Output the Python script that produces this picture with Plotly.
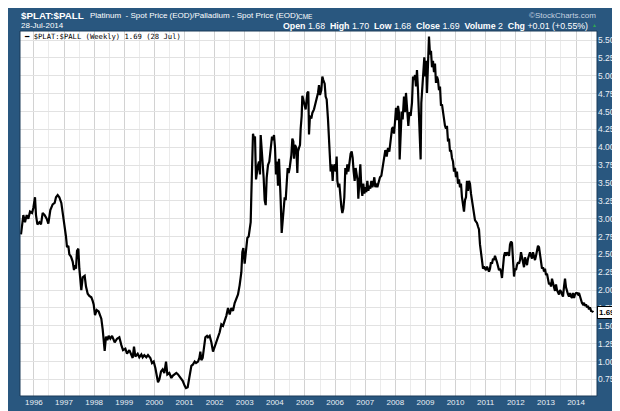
import plotly.graph_objects as go

# ---- data (decimal year, Pt/Pd ratio) ----
years_95_98 = [1995.572, 1995.650, 1995.705, 1995.761, 1995.816, 1995.871, 1995.938, 1995.982,
               1996.037, 1996.070, 1996.115, 1996.181, 1996.236, 1996.292, 1996.358, 1996.425,
               1996.480, 1996.546, 1996.624, 1996.690, 1996.734, 1996.790, 1996.845, 1996.911,
               1996.967, 1997.022, 1997.066, 1997.100, 1997.144, 1997.177, 1997.232, 1997.288,
               1997.332, 1997.365, 1997.398, 1997.432, 1997.476, 1997.509, 1997.542, 1997.575,
               1997.620, 1997.686, 1997.730, 1997.786, 1997.841, 1997.907, 1997.952, 1997.985,
               1998.029, 1998.085, 1998.151, 1998.195, 1998.239, 1998.284, 1998.317, 1998.350,
               1998.394, 1998.439, 1998.483, 1998.538]
ratio_95_98 = [2.78, 3.05, 2.95, 3.05, 3.00, 3.10, 3.08, 3.15,
               3.30, 3.05, 2.92, 2.95, 2.92, 3.08, 3.05, 3.00,
               2.93, 3.12, 3.20, 3.22, 3.30, 3.33, 3.30, 3.22,
               3.05, 2.90, 2.75, 2.60, 2.62, 2.50, 2.47, 2.40,
               2.28, 2.35, 2.30, 2.55, 2.58, 2.30, 2.10, 2.00,
               2.18, 2.20, 2.05, 1.95, 1.92, 1.90, 1.85, 1.80,
               1.65, 1.72, 1.70, 1.65, 1.60, 1.45, 1.32, 1.15,
               1.35, 1.30, 1.36, 1.32]

years_98_01 = [1998.594, 1998.683, 1998.760, 1998.837, 1998.904, 1998.959, 1999.037, 1999.092,
               1999.169, 1999.225, 1999.280, 1999.324, 1999.369, 1999.446, 1999.501, 1999.568,
               1999.612, 1999.667, 1999.734, 1999.789, 1999.867, 1999.922, 1999.977, 2000.033,
               2000.088, 2000.121, 2000.166, 2000.221, 2000.276, 2000.332, 2000.387, 2000.431,
               2000.497, 2000.564, 2000.608, 2000.675, 2000.730, 2000.785, 2000.863, 2000.940,
               2001.007, 2001.051, 2001.106, 2001.139, 2001.184, 2001.228, 2001.283, 2001.339,
               2001.383, 2001.449, 2001.494, 2001.527, 2001.560, 2001.604, 2001.637, 2001.693,
               2001.748]
ratio_98_01 = [1.36, 1.27, 1.32, 1.34, 1.23, 1.16, 1.18, 1.11,
               1.16, 1.09, 1.05, 1.21, 1.07, 1.11, 1.06, 1.10,
               1.06, 1.09, 1.06, 1.09, 1.05, 0.98, 1.00, 0.91,
               0.80, 0.71, 0.75, 0.86, 0.89, 0.84, 1.00, 0.82,
               0.84, 0.77, 0.80, 0.82, 0.84, 0.82, 0.77, 0.73,
               0.66, 0.63, 0.64, 0.73, 0.80, 0.94, 0.96, 1.00,
               0.98, 1.00, 1.05, 1.14, 1.02, 1.05, 1.16, 1.34,
               1.36]

years_01_04 = [2001.781, 2001.836, 2001.892, 2001.947, 2002.002, 2002.058, 2002.113, 2002.168,
               2002.224, 2002.279, 2002.334, 2002.390, 2002.445, 2002.500, 2002.556, 2002.611,
               2002.666, 2002.722, 2002.777, 2002.832, 2002.888, 2002.921, 2002.954, 2002.998,
               2003.043, 2003.087, 2003.131, 2003.164, 2003.198, 2003.220, 2003.253, 2003.275,
               2003.308, 2003.341, 2003.375, 2003.408, 2003.441, 2003.474, 2003.507, 2003.530,
               2003.563, 2003.596, 2003.629, 2003.662, 2003.696, 2003.729, 2003.773, 2003.817,
               2003.862, 2003.906, 2003.939, 2003.972, 2004.005, 2004.039, 2004.072, 2004.105,
               2004.138, 2004.171, 2004.194, 2004.227, 2004.260, 2004.293, 2004.326, 2004.360,
               2004.393, 2004.426, 2004.459, 2004.492, 2004.548, 2004.581, 2004.614, 2004.636,
               2004.669, 2004.714, 2004.747, 2004.769, 2004.802, 2004.835, 2004.858, 2004.891,
               2004.913, 2004.946]
ratio_01_04 = [1.34, 1.36, 1.27, 1.14, 1.21, 1.27, 1.34, 1.41,
               1.52, 1.50, 1.57, 1.64, 1.75, 1.66, 1.75, 1.71,
               1.82, 1.87, 1.94, 2.07, 2.25, 2.53, 2.59, 2.37,
               2.57, 2.73, 2.75, 2.89, 2.95, 3.34, 3.80, 4.19,
               4.12, 4.15, 3.55, 3.71, 3.75, 3.80, 3.62, 4.17,
               3.99, 3.80, 3.57, 3.26, 3.19, 3.57, 3.75, 3.80,
               3.94, 4.15, 4.10, 4.17, 4.00, 3.62, 3.80, 3.46,
               3.84, 3.57, 3.26, 2.80, 3.01, 3.12, 3.30, 3.26,
               3.60, 3.71, 3.64, 3.71, 3.89, 4.12, 4.08, 3.84,
               4.03, 3.99, 3.64, 3.94, 3.99, 4.03, 4.26, 4.44,
               4.72, 4.67]

years_05_08 = [2005.023, 2005.079, 2005.112, 2005.134, 2005.167, 2005.211, 2005.245, 2005.300,
               2005.355, 2005.389, 2005.433, 2005.466, 2005.499, 2005.543, 2005.577, 2005.610,
               2005.654, 2005.687, 2005.721, 2005.765, 2005.798, 2005.831, 2005.853, 2005.887,
               2005.920, 2005.942, 2005.986, 2006.019, 2006.052, 2006.075, 2006.108, 2006.141,
               2006.174, 2006.207, 2006.241, 2006.274, 2006.307, 2006.340, 2006.374, 2006.407,
               2006.440, 2006.484, 2006.517, 2006.551, 2006.584, 2006.617, 2006.650, 2006.683,
               2006.717, 2006.750, 2006.772, 2006.805, 2006.838, 2006.871, 2006.905, 2006.938,
               2006.971, 2007.004, 2007.037, 2007.071, 2007.104, 2007.137, 2007.170, 2007.204,
               2007.237, 2007.270, 2007.303, 2007.336, 2007.370, 2007.403, 2007.447, 2007.491,
               2007.536, 2007.580, 2007.624, 2007.668, 2007.713, 2007.757, 2007.801, 2007.845,
               2007.890, 2007.923, 2007.956, 2007.989, 2008.023, 2008.056, 2008.089, 2008.122,
               2008.144]
ratio_05_08 = [4.53, 4.76, 4.78, 4.18, 4.44, 4.40, 4.48, 4.53,
               4.62, 4.71, 4.76, 4.87, 4.73, 4.80, 4.99, 4.94,
               4.89, 4.71, 4.67, 4.39, 4.12, 3.85, 3.66, 3.76,
               3.53, 3.71, 3.76, 3.66, 3.87, 3.53, 3.44, 3.49,
               3.30, 3.17, 3.08, 3.14, 3.30, 3.71, 3.62, 3.76,
               3.66, 3.85, 3.91, 3.94, 3.85, 3.66, 3.53, 3.71,
               3.58, 3.53, 3.28, 3.58, 3.76, 3.44, 3.32, 3.49,
               3.35, 3.44, 3.37, 3.53, 3.39, 3.46, 3.42, 3.53,
               3.44, 3.49, 3.58, 3.44, 3.49, 3.44, 3.53, 3.58,
               3.60, 3.71, 3.85, 3.96, 3.87, 3.99, 3.94, 4.10,
               4.26, 4.28, 4.19, 4.35, 4.55, 4.38, 4.58, 4.48,
               3.83]

years_08_11 = [2008.210, 2008.244, 2008.288, 2008.321, 2008.354, 2008.387, 2008.432, 2008.465,
               2008.509, 2008.553, 2008.587, 2008.620, 2008.653, 2008.686, 2008.719, 2008.753,
               2008.786, 2008.819, 2008.841, 2008.863, 2008.896, 2008.930, 2008.963, 2008.996,
               2009.029, 2009.051, 2009.085, 2009.118, 2009.151, 2009.184, 2009.217, 2009.251,
               2009.284, 2009.317, 2009.350, 2009.383, 2009.417, 2009.450, 2009.483, 2009.516,
               2009.549, 2009.583, 2009.616, 2009.649, 2009.682, 2009.715, 2009.749, 2009.782,
               2009.815, 2009.848, 2009.881, 2009.915, 2009.948, 2009.981, 2010.014, 2010.047,
               2010.081, 2010.114, 2010.147, 2010.180, 2010.213, 2010.247, 2010.280, 2010.313,
               2010.346, 2010.379, 2010.413, 2010.446, 2010.479, 2010.512, 2010.545, 2010.579,
               2010.612, 2010.645, 2010.678, 2010.711, 2010.745, 2010.778, 2010.811, 2010.844,
               2010.877, 2010.911, 2010.944, 2010.977, 2011.010, 2011.044, 2011.077, 2011.110,
               2011.143, 2011.176, 2011.209, 2011.243, 2011.276, 2011.309]
ratio_08_11 = [4.50, 4.39, 4.71, 4.49, 4.76, 4.58, 4.30, 4.49,
               4.44, 4.62, 4.99, 4.94, 5.01, 4.85, 5.08, 4.80,
               4.49, 4.08, 3.83, 4.62, 4.85, 5.08, 5.26, 4.99,
               5.21, 4.76, 5.17, 5.55, 5.30, 5.35, 5.12, 5.21,
               5.05, 5.17, 4.90, 4.99, 4.94, 4.80, 4.85, 4.58,
               4.60, 4.49, 4.39, 4.30, 4.26, 4.30, 4.08, 4.12,
               3.94, 3.96, 3.85, 3.80, 3.66, 3.71, 3.58, 3.66,
               3.49, 3.55, 3.44, 3.49, 3.30, 3.21, 3.10, 3.26,
               3.30, 3.53, 3.39, 3.53, 3.49, 3.35, 3.26, 3.19,
               3.12, 2.98, 2.96, 2.94, 2.89, 2.85, 2.64, 2.48,
               2.42, 2.30, 2.33, 2.30, 2.28, 2.33, 2.30, 2.26,
               2.30, 2.39, 2.37, 2.44, 2.42, 2.48]

years_11_14 = [2011.376, 2011.409, 2011.443, 2011.476, 2011.509, 2011.542, 2011.575, 2011.609,
               2011.642, 2011.675, 2011.708, 2011.741, 2011.775, 2011.808, 2011.841, 2011.874,
               2011.907, 2011.941, 2011.974, 2012.007, 2012.040, 2012.073, 2012.107, 2012.140,
               2012.173, 2012.206, 2012.239, 2012.273, 2012.306, 2012.339, 2012.372, 2012.405,
               2012.439, 2012.472, 2012.505, 2012.538, 2012.571, 2012.605, 2012.638, 2012.671,
               2012.704, 2012.737, 2012.771, 2012.804, 2012.837, 2012.870, 2012.903, 2012.937,
               2012.970, 2013.003, 2013.036, 2013.069, 2013.103, 2013.136, 2013.169, 2013.202,
               2013.235, 2013.269, 2013.302, 2013.335, 2013.368, 2013.401, 2013.435, 2013.468,
               2013.501, 2013.534, 2013.567, 2013.601, 2013.634, 2013.667, 2013.700, 2013.733,
               2013.767, 2013.800, 2013.833, 2013.866, 2013.899, 2013.933, 2013.966, 2013.999,
               2014.032, 2014.065, 2014.099, 2014.132, 2014.165, 2014.198, 2014.231, 2014.264,
               2014.298, 2014.331, 2014.364, 2014.397, 2014.430, 2014.463, 2014.497, 2014.530,
               2014.552, 2014.572]
ratio_11_14 = [2.39, 2.32, 2.28, 2.30, 2.26, 2.17, 2.39, 2.48,
               2.53, 2.48, 2.53, 2.51, 2.48, 2.64, 2.68, 2.66,
               2.30, 2.19, 2.30, 2.28, 2.35, 2.39, 2.37, 2.42,
               2.53, 2.44, 2.39, 2.32, 2.46, 2.42, 2.35, 2.44,
               2.48, 2.53, 2.48, 2.44, 2.53, 2.46, 2.42, 2.48,
               2.57, 2.62, 2.60, 2.51, 2.44, 2.30, 2.32, 2.26,
               2.30, 2.21, 2.23, 2.17, 2.08, 2.10, 2.05, 2.16,
               2.08, 2.04, 1.99, 2.08, 2.00, 1.96, 1.94, 2.00,
               1.98, 1.94, 1.91, 2.05, 2.16, 2.04, 1.96, 1.94,
               1.91, 1.96, 1.91, 1.89, 1.96, 1.89, 1.94, 1.96,
               1.96, 1.94, 1.96, 1.91, 1.87, 1.82, 1.80, 1.82,
               1.78, 1.80, 1.76, 1.78, 1.73, 1.76, 1.71, 1.71,
               1.70, 1.69]

year_ticks = list(range(1996, 2015))
year_labels = [str(y) for y in year_ticks]
price_ticks = [0.75, 1.00, 1.25, 1.50, 1.75, 2.00, 2.25, 2.50, 2.75, 3.00,
               3.25, 3.50, 3.75, 4.00, 4.25, 4.50, 4.75, 5.00, 5.25, 5.50]
price_labels = ["%.2f" % v for v in price_ticks]

years = years_95_98 + years_98_01 + years_01_04 + years_05_08 + years_08_11 + years_11_14
ratio = ratio_95_98 + ratio_98_01 + ratio_01_04 + ratio_05_08 + ratio_08_11 + ratio_11_14

# ---- styling ----
BG = "#29577f"
TXT = "#e9eff5"
FONT = "Liberation Sans, Arial, sans-serif"
W, H = 620, 411
ML, MR, MT, MB = 12, 31, 23, 14
PW, PH = W - ML - MR, H - MT - MB


def px(x):
    return (x - ML) / PW


def py(y):
    return (H - MB - y) / PH


fig = go.Figure()
fig.add_trace(go.Scatter(x=years, y=ratio, mode="lines",
                         line=dict(color="black", width=2.2),
                         name="$PLAT:$PALL", showlegend=False, hoverinfo="skip"))

fig.update_layout(
    width=W, height=H,
    margin=dict(l=ML, r=MR, t=MT, b=MB, pad=0),
    paper_bgcolor=BG, plot_bgcolor="white",
    font=dict(family=FONT, color=TXT),
    xaxis=dict(range=[1995.539, 2014.696], tickmode="array", tickvals=year_ticks,
               ticktext=year_labels, showgrid=True, gridcolor="#d2d2d2", gridwidth=1,
               minor=dict(tickvals=[y + 0.5 for y in range(1995, 2015)], showgrid=True,
                          gridcolor="#ebebeb", gridwidth=1, ticks=""),
               ticks="", zeroline=False, showline=False,
               tickfont=dict(size=8, color=TXT, family=FONT)),
    yaxis=dict(range=[0.518, 5.627], side="right", tickmode="array", tickvals=price_ticks,
               ticktext=price_labels, showgrid=True, gridcolor="#e2e2e2", gridwidth=1,
               ticks="", zeroline=False, showline=False,
               tickfont=dict(size=8.5, color=TXT, family=FONT)),
)

# plot frame
fig.add_shape(type="rect", xref="paper", yref="paper", x0=0, x1=1, y0=0, y1=1,
              line=dict(color="#1b3b59", width=1), fillcolor="rgba(0,0,0,0)", layer="above")

ann = []
ann.append(dict(x=px(11), y=py(7.5), text="<b>$PLAT:$PALL</b>", xanchor="left", yanchor="middle",
                font=dict(size=9.8, color="white", family=FONT)))
ann.append(dict(x=px(80), y=py(7.5), text="Platinum  - Spot Price (EOD)/Palladium - Spot Price (EOD)",
                xanchor="left", yanchor="middle", font=dict(size=8, color="white", family=FONT)))
ann.append(dict(x=px(288), y=py(8), text="CME", xanchor="left", yanchor="middle",
                font=dict(size=6.5, color="white", family=FONT)))
ann.append(dict(x=px(11), y=py(17.5), text="28-Jul-2014", xanchor="left", yanchor="middle",
                font=dict(size=8, color="white", family=FONT)))
ann.append(dict(x=px(590), y=py(7.5), text="©StockCharts.com", xanchor="right", yanchor="middle",
                font=dict(size=8, color="#c6d3e0", family=FONT)))
ann.append(dict(x=px(582), y=py(17.5),
                text="<b>Open</b> 1.68  <b>High</b> 1.70  <b>Low</b> 1.68  <b>Close</b> 1.69  "
                     "<b>Volume</b> 2  <b>Chg</b> +0.01 (+0.55%)",
                xanchor="right", yanchor="middle", font=dict(size=8.8, color="white", family=FONT)))
ann.append(dict(x=px(586), y=py(17), text="▲", xanchor="center", yanchor="middle",
                font=dict(size=5, color="#2fa84f", family=FONT)))
ann.append(dict(x=px(14), y=py(28.5), text="━ $PLAT:$PALL (Weekly) 1.69 (28 Jul)",
                xanchor="left", yanchor="middle",
                font=dict(size=7.2, color="black", family="DejaVu Sans Mono, monospace")))
ann.append(dict(x=1, xref="paper", y=ratio[-1], yref="y", text="<b>1.69</b>",
                xanchor="left", yanchor="middle", bgcolor="white", bordercolor="black",
                borderwidth=1, borderpad=1, font=dict(size=8, color="black", family=FONT)))

for a in ann:
    a.setdefault("xref", "paper")
    a.setdefault("yref", "paper")
    a["showarrow"] = False
    fig.add_annotation(**a)

fig.write_html("out.html")
